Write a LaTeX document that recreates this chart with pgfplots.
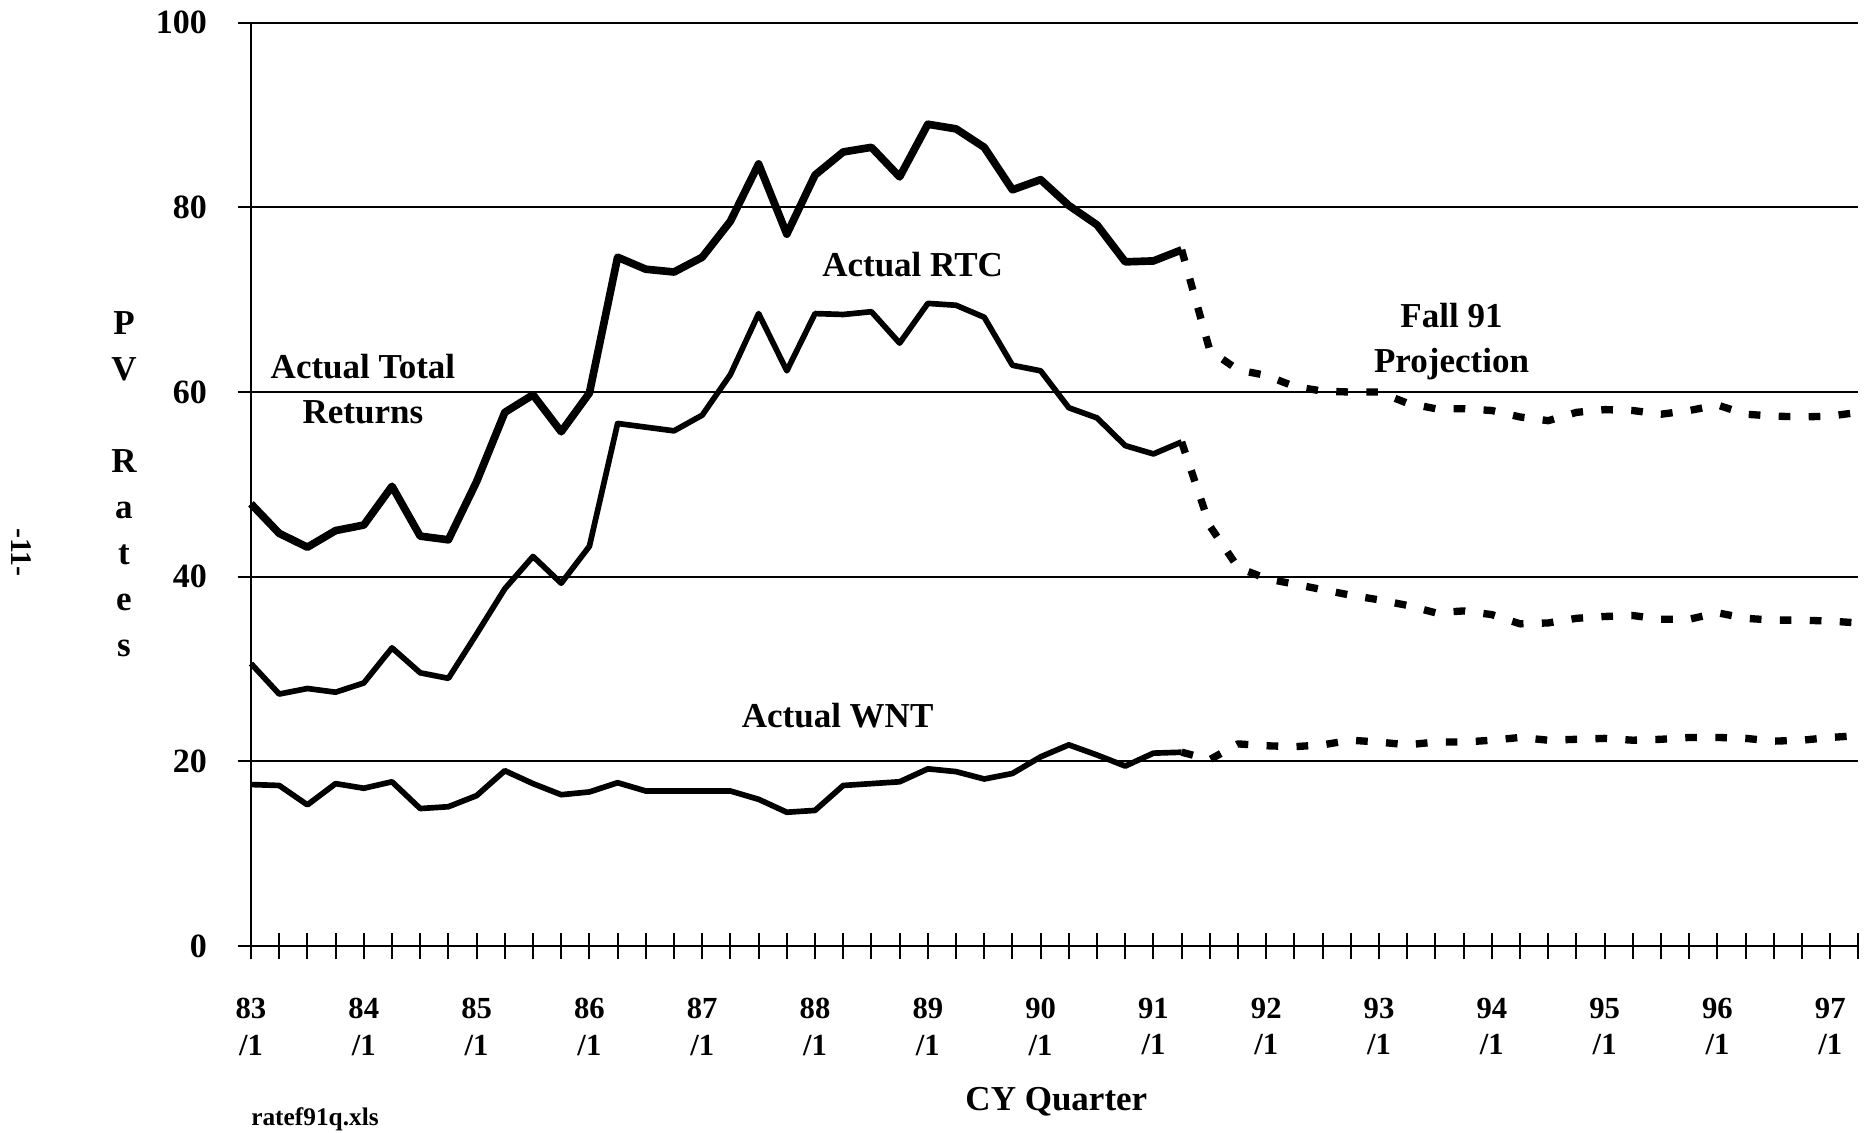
\documentclass[border=0pt]{standalone}
\usepackage{fontspec}
\setmainfont{Liberation Serif}
\usepackage{pgfplots}
\usepackage{pgfplotstable}
\pgfplotsset{compat=1.18}

\pgfplotstableread{
q v
0 47.9
1 44.7
2 43.2
3 45.0
4 45.6
5 49.8
6 44.4
7 44.0
8 50.3
9 57.8
10 59.7
11 55.7
12 59.9
13 74.6
14 73.3
15 73.0
16 74.6
17 78.5
18 84.7
19 77.1
20 83.5
21 86.0
22 86.5
23 83.3
24 89.0
25 88.5
26 86.5
27 81.9
28 83.0
29 80.2
30 78.1
31 74.1
32 74.2
33 75.4
}\totalact

\pgfplotstableread{
q v
33 75.4
34 64.5
35 62.4
36 61.8
37 60.6
38 60.1
39 60.0
40 60.0
41 58.8
42 58.2
43 58.2
44 58.0
45 57.3
46 56.9
47 57.8
48 58.1
49 58.0
50 57.6
51 58.0
52 58.6
53 57.6
54 57.4
55 57.3
56 57.4
57 57.8
}\totalproj

\pgfplotstableread{
q v
0 30.6
1 27.3
2 27.9
3 27.5
4 28.5
5 32.3
6 29.6
7 29.0
8 33.8
9 38.7
10 42.2
11 39.3
12 43.3
13 56.6
14 56.2
15 55.8
16 57.5
17 61.9
18 68.5
19 62.3
20 68.5
21 68.4
22 68.7
23 65.3
24 69.6
25 69.4
26 68.1
27 62.9
28 62.3
29 58.3
30 57.2
31 54.2
32 53.3
33 54.6
}\rtcact

\pgfplotstableread{
q v
33 54.6
34 45.5
35 41.0
36 39.8
37 39.2
38 38.6
39 38.0
40 37.5
41 36.9
42 36.1
43 36.3
44 35.9
45 34.9
46 35.0
47 35.5
48 35.7
49 35.8
50 35.4
51 35.4
52 36.1
53 35.5
54 35.3
55 35.3
56 35.2
57 35.0
}\rtcproj

\pgfplotstableread{
q v
0 17.5
1 17.4
2 15.3
3 17.6
4 17.1
5 17.8
6 14.9
7 15.1
8 16.3
9 19.0
10 17.6
11 16.4
12 16.7
13 17.7
14 16.8
15 16.8
16 16.8
17 16.8
18 15.9
19 14.5
20 14.7
21 17.4
22 17.6
23 17.8
24 19.2
25 18.9
26 18.1
27 18.7
28 20.5
29 21.8
30 20.7
31 19.5
32 20.9
33 21.0
}\wntact

\pgfplotstableread{
q v
33 21.0
34 20.2
35 21.9
36 21.7
37 21.6
38 21.8
39 22.3
40 22.1
41 21.8
42 22.1
43 22.1
44 22.3
45 22.6
46 22.3
47 22.4
48 22.5
49 22.3
50 22.4
51 22.6
52 22.6
53 22.5
54 22.2
55 22.3
56 22.6
57 22.8
}\wntproj

\begin{document}
\begin{tikzpicture}
\path[use as bounding box] (-75.3pt,-55.8pt) rectangle (484.5pt,283.85pt);
\begin{axis}[
  at={(0,0)}, anchor=south west,
  scale only axis, width=482.25pt, height=277.05pt,
  xmin=0, xmax=57, ymin=0, ymax=100,
  axis x line=bottom, axis y line=left,
  axis line style={-, line width=0.8pt, black},
  xtick={0,4,...,56},
  xticklabels={{83\\/1},{84\\/1},{85\\/1},{86\\/1},{87\\/1},{88\\/1},{89\\/1},{90\\/1},{91\\/1},{92\\/1},{93\\/1},{94\\/1},{95\\/1},{96\\/1},{97\\/1}},
  minor xtick={0,...,57},
  ytick={0,20,...,100},
  ymajorgrids, grid style={black, line width=0.6pt},
  tick align=center, major tick length=8pt, minor tick length=8pt,
  tick style={black, line width=0.6pt},
  xticklabel style={align=center, font=\bfseries\fontsize{9.2}{11}\selectfont, yshift=-8pt},
  yticklabel style={font=\bfseries\fontsize{10.2}{12}\selectfont, xshift=-5.7pt},
  /pgf/number format/assume math mode=true,
  clip=false,
  every axis plot/.append style={black, line join=round},
]
\addplot[line width=2.3pt] table[x=q,y=v] {\totalact};
\addplot[line width=2.2pt, dash pattern=on 3.5pt off 5.5pt] table[x=q,y=v] {\totalproj};
\addplot[line width=1.7pt] table[x=q,y=v] {\rtcact};
\addplot[line width=2.2pt, dash pattern=on 3.5pt off 5.5pt] table[x=q,y=v] {\rtcproj};
\addplot[line width=1.7pt] table[x=q,y=v] {\wntact};
\addplot[line width=2.2pt, dash pattern=on 3.5pt off 5.5pt] table[x=q,y=v] {\wntproj};

\node[font=\bfseries\fontsize{10.5}{13.5}\selectfont, align=center] at (axis cs:3.97,60.3) {Actual Total\\Returns};
\node[font=\bfseries\fontsize{10.5}{13.5}\selectfont] at (axis cs:23.46,73.8) {Actual RTC};
\node[font=\bfseries\fontsize{10.5}{13.5}\selectfont, align=center] at (axis cs:42.57,65.5) {Fall 91\\Projection};
\node[font=\bfseries\fontsize{10.5}{13.5}\selectfont] at (axis cs:20.8,25.0) {Actual WNT};

\node[font=\bfseries\fontsize{10.5}{13.8}\selectfont, align=center] at ([xshift=-38.1pt]rel axis cs:0,0.5) {P\\V\\[13.8pt]R\\a\\t\\e\\s};
\node[font=\bfseries\fontsize{9}{10}\selectfont, rotate=-90] at ([xshift=-69pt]rel axis cs:0,0.426) {-11-};
\node[font=\bfseries\fontsize{10.5}{12}\selectfont] at ([yshift=-46.8pt]rel axis cs:0.501,0) {CY Quarter};
\node[font=\bfseries\fontsize{7.6}{9}\selectfont] at ([xshift=19.2pt,yshift=-51.9pt]rel axis cs:0,0) {ratef91q.xls};
\end{axis}
\end{tikzpicture}
\end{document}
